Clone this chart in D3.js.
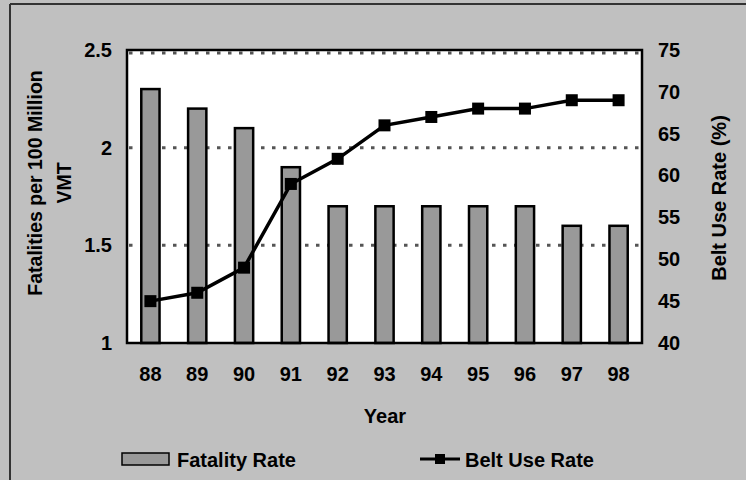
<!DOCTYPE html>
<html><head><meta charset="utf-8">
<script src="https://cdn.jsdelivr.net/npm/d3@7"></script>
<style>
html,body{margin:0;padding:0;background:#c0c0c0;}
svg{display:block;}
text{font-family:"Liberation Sans",Arial,sans-serif;font-weight:bold;fill:#000;}
</style></head>
<body>
<svg id="c" width="746" height="480"></svg>
<script>
const years = ["88","89","90","91","92","93","94","95","96","97","98"];
const fatalityRate = [2.3,2.2,2.1,1.9,1.7,1.7,1.7,1.7,1.7,1.6,1.6];
const beltUseRate = [45,46,49,59,62,66,67,68,68,69,69];
const leftTicks = [1,1.5,2,2.5];
const rightTicks = [40,45,50,55,60,65,70,75];

const svg = d3.select("#c");
const W=746,H=480;
svg.append("rect").attr("width",W).attr("height",H).attr("fill","#c0c0c0");
svg.append("line").attr("x1",10).attr("x2",W).attr("y1",4).attr("y2",4).attr("stroke","#333").attr("stroke-width",2);
svg.append("line").attr("x1",10).attr("x2",10).attr("y1",4).attr("y2",H).attr("stroke","#333").attr("stroke-width",2);

const L=127,R=642,T=50,B=343;
const x = d3.scaleBand().domain(years).range([L,R]).paddingInner(0.61).paddingOuter(0.305);
const y = d3.scaleLinear().domain([1,2.5]).range([B,T]);
const y2 = d3.scaleLinear().domain([40,75]).range([B,T]);

svg.append("rect").attr("x",L).attr("y",T).attr("width",R-L).attr("height",B-T).attr("fill","#fff");

svg.append("g").selectAll("line").data(leftTicks.filter(d=>d>1)).join("line")
  .attr("x1",L+2).attr("x2",R-2).attr("y1",d=>y(d)+(d===2.5?3:0)).attr("y2",d=>y(d)+(d===2.5?3:0))
  .attr("stroke","#555").attr("stroke-width",3).attr("stroke-dasharray","3.5,7.5");

svg.append("g").selectAll("rect").data(years).join("rect")
  .attr("x",d=>x(d)).attr("width",x.bandwidth())
  .attr("y",(d,i)=>y(fatalityRate[i])).attr("height",(d,i)=>B-y(fatalityRate[i]))
  .attr("fill","#999").attr("stroke","#000").attr("stroke-width",2.5);

svg.append("rect").attr("x",L).attr("y",T).attr("width",R-L).attr("height",B-T)
  .attr("fill","none").attr("stroke","#000").attr("stroke-width",2.5);

const cx = d=>x(d)+x.bandwidth()/2;
svg.append("path").datum(years).attr("fill","none").attr("stroke","#000").attr("stroke-width",3.5)
  .attr("d",d3.line().x(d=>cx(d)).y((d,i)=>y2(beltUseRate[i])));
svg.append("g").selectAll("rect").data(years).join("rect")
  .attr("x",d=>cx(d)-6).attr("y",(d,i)=>y2(beltUseRate[i])-6).attr("width",12).attr("height",12).attr("fill","#000");

const fs = 20;
function styleAxis(g){
  g.select(".domain").remove();
  g.selectAll("text").style("font-size",fs+"px").style("font-family","Liberation Sans, Arial").style("font-weight","bold").attr("fill","#000");
}
const ax = svg.append("g").attr("transform",`translate(${L},0)`).call(d3.axisLeft(y).tickValues(leftTicks).tickFormat(d3.format("")).tickSize(0).tickPadding(15));
styleAxis(ax);
const ar = svg.append("g").attr("transform",`translate(${R},0)`).call(d3.axisRight(y2).tickValues(rightTicks).tickSize(0).tickPadding(16));
styleAxis(ar);
const ab = svg.append("g").attr("transform",`translate(0,${B})`).call(d3.axisBottom(x).tickSize(0).tickPadding(24));
styleAxis(ab);

svg.append("text").attr("transform","translate(42,183) rotate(-90)").attr("text-anchor","middle").style("font-size","19.5px").text("Fatalities per 100 Million");
svg.append("text").attr("transform","translate(71,183) rotate(-90)").attr("text-anchor","middle").style("font-size","19.5px").text("VMT");
svg.append("text").attr("transform","translate(726,198) rotate(-90)").attr("text-anchor","middle").style("font-size","20px").text("Belt Use Rate (%)");
svg.append("text").attr("x",385).attr("y",423).attr("text-anchor","middle").style("font-size","20px").text("Year");

svg.append("rect").attr("x",122).attr("y",453).attr("width",47).attr("height",12).attr("fill","#999").attr("stroke","#000").attr("stroke-width",1.5);
svg.append("text").attr("x",177).attr("y",467).style("font-size","20px").text("Fatality Rate");
svg.append("line").attr("x1",420).attr("x2",460).attr("y1",459).attr("y2",459).attr("stroke","#000").attr("stroke-width",3);
svg.append("rect").attr("x",435).attr("y",454).attr("width",10).attr("height",10).attr("fill","#000");
svg.append("text").attr("x",465).attr("y",467).style("font-size","20px").text("Belt Use Rate");
</script>
</body></html>
